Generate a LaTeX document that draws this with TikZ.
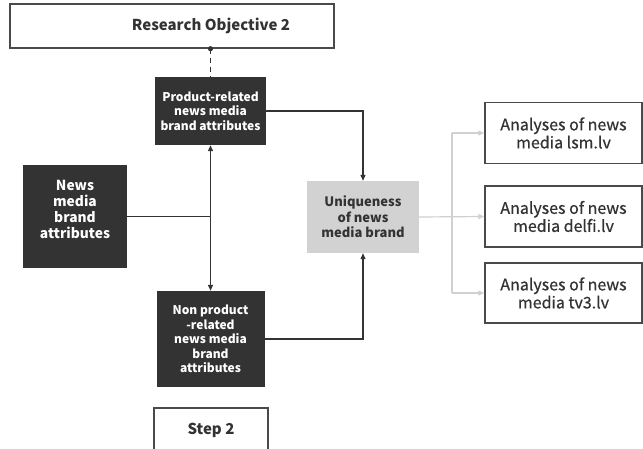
\documentclass[tikz,border=0pt]{standalone}
\usepackage{fontspec}
\setmainfont{Noto Sans CJK KR}
\newfontfamily\mediumface[FakeBold=0.6]{Noto Sans CJK KR}
\usetikzlibrary{arrows.meta}
\definecolor{ink}{HTML}{333333}
\definecolor{frame}{HTML}{4A4A4A}
\definecolor{softfill}{HTML}{D2D2D2}
\definecolor{softline}{HTML}{D0D0D0}
\begin{document}
\begin{tikzpicture}[x=1pt,y=-1pt,
  whitebox/.style={draw=frame, line width=1.4pt, fill=white, text=ink,
    align=center, inner sep=0pt},
  darkbox/.style={fill=ink, text=white, align=center, inner sep=0pt,
    font=\bfseries\fontsize{12}{14.5}\selectfont},
  bigdark/.style={darkbox, font=\bfseries\fontsize{13.8}{15.7}\selectfont},
  softbox/.style={fill=softfill, text=ink, align=center, inner sep=0pt,
    font=\bfseries\fontsize{13}{15.5}\selectfont},
  titlefont/.style={font=\bfseries\fontsize{15}{17}\selectfont, text=ink},
  outfont/.style={font=\mediumface\fontsize{16}{18}\selectfont},
  link/.style={draw=ink, line width=1.2pt},
  arr/.style={link, -{Triangle[length=6pt,width=5pt]}},
  twoarr/.style={link, {Triangle[length=6pt,width=5pt]}-{Triangle[length=6pt,width=5pt]}},
  softarr/.style={draw=softline, line width=1.2pt, -{Triangle[length=6pt,width=5pt]}}]
\useasboundingbox (0,0) rectangle (643,448);

% boxes
\node[whitebox, minimum width=324pt, minimum height=44pt] (obj) at (172,26) {};
\node[titlefont] (objtext) at (211,26) {Research Objective 2};
\node[darkbox, minimum width=111pt, minimum height=68pt] (prod) at (210.5,111) {Product-related\\news media\\brand attributes};
\node[bigdark, minimum width=104pt, minimum height=103pt] (news) at (75,216.5) {};
\node[bigdark] (newstext) at (75,209.5) {News\\media\\brand\\attributes};
\node[softbox, minimum width=112pt, minimum height=72pt] (uniq) at (363,217) {Uniqueness\\of news\\media brand};
\node[darkbox, minimum width=108pt, minimum height=96pt] (nonprod) at (210.5,339) {Non product\\-related\\news media\\brand\\attributes};
\node[whitebox, titlefont, minimum width=114pt, minimum height=44pt] (step) at (211,430) {Step 2};
\node[whitebox, outfont, minimum width=157pt, minimum height=61pt] (an1) at (563.5,133) {Analyses of news\\media lsm.lv};
\node[whitebox, outfont, minimum width=157pt, minimum height=61pt] (an2) at (563.5,216.5) {Analyses of news\\media delfi.lv};
\node[whitebox, outfont, minimum width=157pt, minimum height=60pt] (an3) at (563.5,293) {Analyses of news\\media tv3.lv};

% objective to first attribute group
\fill[ink] (prod.north |- obj.south) circle (2.6pt);
\draw[link, dashed, dash pattern=on 5pt off 4pt] (prod.north |- obj.south) -- (prod.north);

% attribute groups
\draw[twoarr] (prod.south) -- (nonprod.north);
\draw[link] (news.east) -- (news.east -| prod.south);
\draw[arr] (prod.east) -| (uniq.north);
\draw[arr] (nonprod.east) -| (uniq.south);

% outputs
\coordinate (split) at (452,0);
\draw[softarr] (uniq.east) -- (an2.west);
\draw[draw=softline, line width=1.2pt] (split |- an1.west) -- (split |- an3.west);
\draw[softarr] (split |- an1.west) -- (an1.west);
\draw[softarr] (split |- an3.west) -- (an3.west);
\end{tikzpicture}
\end{document}
